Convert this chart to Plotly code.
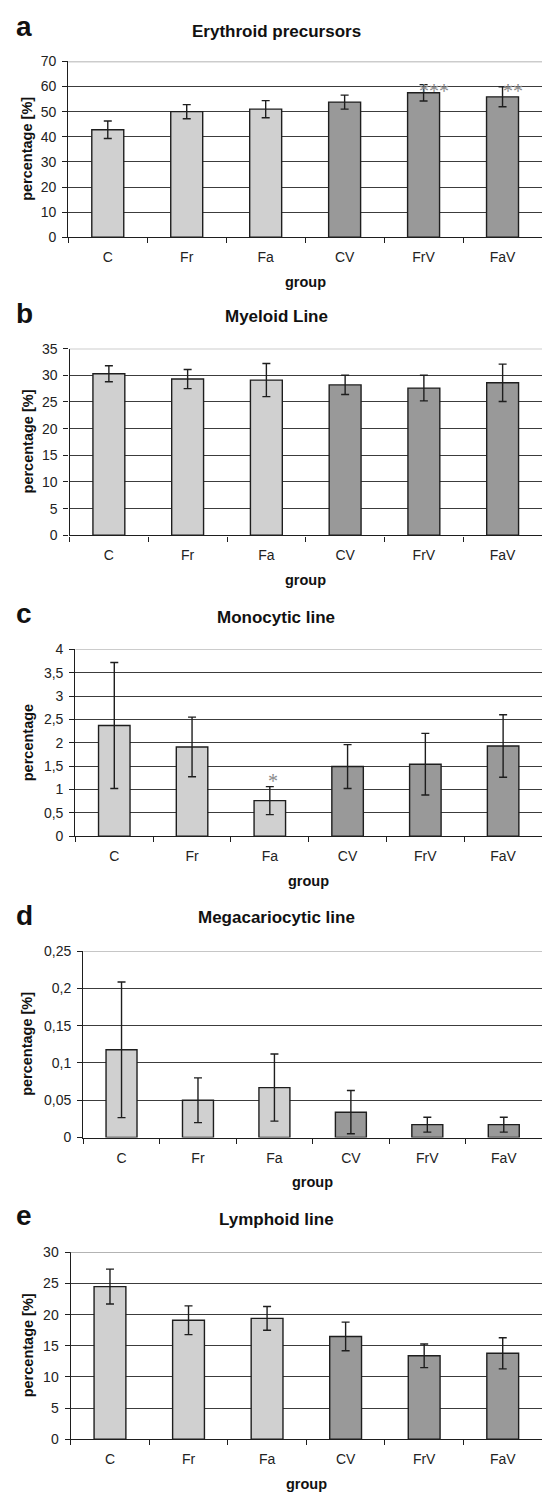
import plotly.graph_objects as go

# ---------------- data ----------------
groups = ["C", "Fr", "Fa", "CV", "FrV", "FaV"]

ery_mean = [42.8, 50.0, 51.0, 53.8, 57.5, 55.9]
ery_err = [3.5, 2.8, 3.4, 2.8, 3.25, 3.95]

mye_mean = [30.3, 29.3, 29.1, 28.2, 27.6, 28.6]
mye_err = [1.5, 1.8, 3.1, 1.8, 2.4, 3.5]

mono_mean = [2.37, 1.91, 0.76, 1.49, 1.54, 1.93]
mono_err = [1.35, 0.64, 0.30, 0.47, 0.66, 0.67]

mega_mean = [0.1177, 0.050, 0.067, 0.034, 0.0173, 0.0173]
mega_err = [0.091, 0.030, 0.045, 0.029, 0.010, 0.010]

lym_mean = [24.5, 19.1, 19.4, 16.5, 13.4, 13.8]
lym_err = [2.8, 2.3, 1.9, 2.3, 1.9, 2.5]

titles = ["Erythroid precursors", "Myeloid Line", "Monocytic line",
          "Megacariocytic line", "Lymphoid line"]
letters = ["a", "b", "c", "d", "e"]
ytitles = ["percentage [%]", "percentage [%]", "percentage",
           "percentage [%]", "percentage [%]"]
y_max = [70, 35, 4, 0.25, 30]
y_step = [10, 5, 0.5, 0.05, 5]

# significance marks: (panel index, group, text, y level)
sig_marks = [(0, "FrV", "***", 60), (0, "FaV", "**", 60), (2, "Fa", "*", 1.27)]

means = [ery_mean, mye_mean, mono_mean, mega_mean, lym_mean]
errs = [ery_err, mye_err, mono_err, mega_err, lym_err]

# ---------------- layout geometry (pixels) ----------------
W, H = 542, 1503
tops = [54, 344.3, 648.3, 953.3, 1257.7]
bottoms = [231.7, 533, 837, 1141.7, 1446.7]
lefts = [68.3, 69.5, 75.4, 83.3, 70.7]
letter_base = [28.3, 318.3, 621.7, 926.7, 1230.0]
title_base = [29.3, 317.7, 621.7, 925.7, 1230.7]

LIGHT = "#d0d0d0"
DARK = "#999999"
INK = "#1e1e1e"
FONT = "Liberation Sans, Arial, Helvetica, sans-serif"

bar_colors = [LIGHT, LIGHT, LIGHT, DARK, DARK, DARK]


def fx(px):
    return px / W


def fy(px):
    return 1 - px / H


fig = go.Figure()
annotations = []
shapes = []
layout_axes = {}

for i in range(5):
    s = "" if i == 0 else str(i + 1)
    fig.add_trace(go.Bar(
        x=groups, y=means[i],
        marker=dict(color=bar_colors, line=dict(color=INK, width=1.4)),
        error_y=dict(type="data", array=errs[i], color=INK, thickness=1.4, width=4),
        xaxis="x" + s, yaxis="y" + s, showlegend=False, hoverinfo="x+y",
    ))
    layout_axes["xaxis" + s] = dict(
        domain=[fx(lefts[i]), 1.0], anchor="y" + s, type="category",
        range=[-0.5, 5.5], showline=True, linecolor=INK, linewidth=1.4,
        ticks="outside", ticklen=5, tickcolor=INK, tickwidth=1.2,
        tickson="boundaries", showgrid=False, zeroline=False,
        tickfont=dict(family=FONT, size=14, color="#222"),
        ticklabelstandoff=7,
    )
    layout_axes["yaxis" + s] = dict(
        domain=[fy(bottoms[i]), fy(tops[i])], anchor="x" + s,
        range=[0, y_max[i]], dtick=y_step[i], tick0=0,
        showline=True, linecolor=INK, linewidth=1.4,
        ticks="outside", ticklen=5, tickcolor=INK, tickwidth=1.2,
        showgrid=True, gridcolor="#3c3c3c", gridwidth=1.1, zeroline=False,
        tickfont=dict(family=FONT, size=14, color="#222"),
        ticklabelstandoff=3,
    )
    # lighter top line
    shapes.append(dict(type="line", xref="x" + s + " domain", yref="y" + s,
                       x0=0, x1=1, y0=y_max[i], y1=y_max[i],
                       line=dict(color="#9a9a9a", width=1.4), layer="above"))
    # panel letter
    annotations.append(dict(text="<b>%s</b>" % letters[i], xref="paper", yref="paper",
                            x=fx(24), y=fy(letter_base[i] - 0.35 * 28),
                            xanchor="center", yanchor="middle", showarrow=False,
                            font=dict(family=FONT, size=28, color="#111")))
    # title
    annotations.append(dict(text="<b>%s</b>" % titles[i], xref="paper", yref="paper",
                            x=fx(276), y=fy(title_base[i] - 0.35 * 17),
                            xanchor="center", yanchor="middle", showarrow=False,
                            font=dict(family=FONT, size=17, color="#111")))
    # y title
    annotations.append(dict(text="<b>%s</b>" % ytitles[i], xref="paper", yref="paper",
                            x=fx(27.5), y=fy((tops[i] + bottoms[i]) / 2),
                            xanchor="center", yanchor="middle", showarrow=False,
                            textangle=-90,
                            font=dict(family=FONT, size=14.5, color="#111")))
    # x title
    annotations.append(dict(text="<b>group</b>", xref="paper", yref="paper",
                            x=fx((lefts[i] + W) / 2), y=fy(bottoms[i] + 50 - 0.35 * 14),
                            xanchor="center", yanchor="middle", showarrow=False,
                            font=dict(family=FONT, size=14.5, color="#111")))

for (pi, g, txt, yv) in sig_marks:
    s = "" if pi == 0 else str(pi + 1)
    annotations.append(dict(text=txt, xref="x" + s, yref="y" + s, x=g, y=yv,
                            xanchor="center", yanchor="middle", showarrow=False,
                            xshift=10 if len(txt) > 1 else 3, yshift=-4,
                            font=dict(family="Liberation Serif, Times New Roman, serif",
                                      size=20, color="#8a8a8a")))

fig.update_layout(
    width=W, height=H,
    margin=dict(l=0, r=0, t=0, b=0),
    paper_bgcolor="white", plot_bgcolor="white",
    bargap=0.595,
    separators=",.",
    annotations=annotations,
    shapes=shapes,
    **layout_axes,
)

fig.write_html("out.html",
               config={"displayModeBar": False},
               post_script="document.body.style.margin='0';document.body.style.overflow='hidden';")
